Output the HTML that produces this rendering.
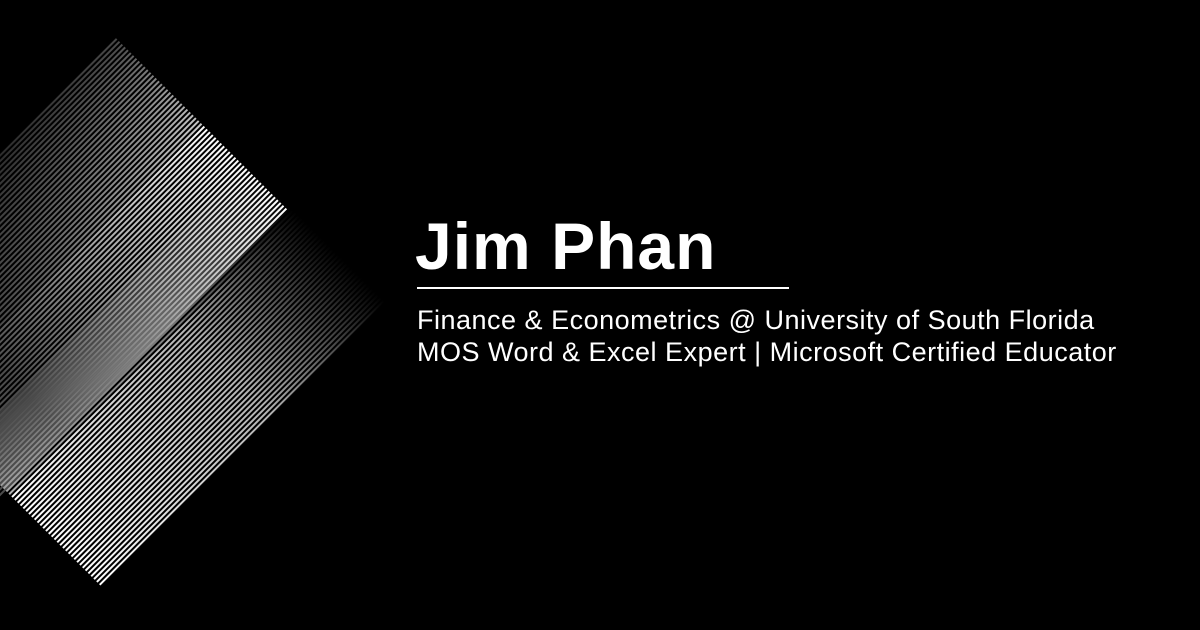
<!DOCTYPE html>
<html><head><meta charset="utf-8"><style>
html,body{margin:0;padding:0;background:#000;width:1200px;height:630px;overflow:hidden;}
#wrap{position:relative;width:1200px;height:630px;overflow:hidden;background:#000;font-family:"Liberation Sans",sans-serif;color:#fff;}
#art{position:absolute;left:0;top:0;display:block;overflow:hidden;}
#name{position:absolute;left:415px;top:206px;font-size:66px;font-weight:bold;letter-spacing:1px;line-height:80px;margin:0;}
#rule{position:absolute;left:417px;top:287px;width:372px;height:2px;background:#fff;}
.sub{position:absolute;left:417px;font-size:27px;letter-spacing:0.5px;line-height:30px;white-space:nowrap;}
</style></head><body>
<div id="wrap">
<svg id="art" width="1200" height="630" viewBox="0 0 1200 630">
<defs>
<linearGradient id="g1" gradientUnits="userSpaceOnUse" x1="39" y1="-39" x2="-184" y2="184">
<stop offset="0" stop-color="#fff" stop-opacity="1"/><stop offset="1" stop-color="#fff" stop-opacity="0.3"/></linearGradient>
<linearGradient id="g2" gradientUnits="userSpaceOnUse" x1="-242" y1="242" x2="42" y2="-42">
<stop offset="0" stop-color="#fff" stop-opacity="1"/><stop offset="0.6" stop-color="#fff" stop-opacity="0.7"/><stop offset="1" stop-color="#fff" stop-opacity="0"/></linearGradient>
<clipPath id="clip"><rect x="0" y="0" width="1200" height="630"/></clipPath>
</defs>
<g id="lines" clip-path="url(#clip)"></g>
</svg>
<h1 id="name">Jim Phan</h1>
<div id="rule"></div>
<div class="sub" style="top:305px">Finance &amp; Econometrics @ University of South Florida</div>
<div class="sub" style="top:337px">MOS Word &amp; Excel Expert | Microsoft Certified Educator</div>
</div>
<script>
var R=Math.SQRT2, g=document.getElementById('lines'), NS='http://www.w3.org/2000/svg';
function P(s,t){return [(s+t)/R,(s-t)/R];}
function band(s0,sb,s1,t1,t2,grad,dimOp){
  for(var s=s0;s<=s1;s+=4){
    var a=P(s,t1),b=P(s,t2);
    var l=document.createElementNS(NS,'line');
    
    
    l.setAttribute('x1',a[0]);l.setAttribute('y1',a[1]);l.setAttribute('x2',b[0]);l.setAttribute('y2',b[1]);
    l.setAttribute('stroke','url(#'+grad+')');l.setAttribute('stroke-width','2');
    l.setAttribute('opacity', s<sb ? dimOp*(0.35+0.65*(s-s0)/(sb-s0)) : 1);
    g.appendChild(l);
  }
}
band(110,232,351,55,-380,'g1',0.8);
band(292,358,486,-343,62,'g2',0.7);
</script>
</body></html>
